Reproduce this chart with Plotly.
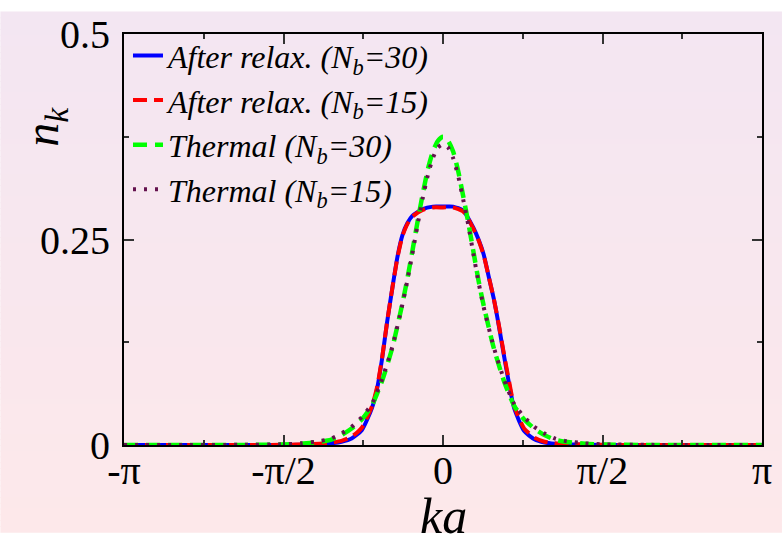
import numpy as np
import plotly.graph_objects as go

# ---------------- data ----------------
k_relax = [-3.1416, -2.5, -2.0, -1.6, -1.3, -1.1, -1.0, -0.9, -0.8, -0.7, -0.65, -0.6, -0.55, -0.5, -0.45, -0.4,
           -0.35, -0.3, -0.2, -0.1, 0.0, 0.1, 0.2, 0.3, 0.35, 0.4, 0.45, 0.5, 0.55, 0.6, 0.65, 0.7, 0.8, 0.9, 1.0,
           1.1, 1.3, 1.6, 2.0, 2.5, 3.1416]
n_relax30 = [0.0, 0.0, 0.0, 0.0001, 0.0005, 0.002, 0.004, 0.008, 0.018, 0.045, 0.068, 0.105, 0.15, 0.19, 0.228, 0.255,
             0.27, 0.279, 0.287, 0.290, 0.290, 0.290, 0.285, 0.264, 0.25, 0.232, 0.205, 0.178, 0.145, 0.109, 0.075,
             0.045, 0.017, 0.007, 0.003, 0.0015, 0.0005, 0.0001, 0.0, 0.0, 0.0]
n_relax15 = [0.0, 0.0, 0.0, 0.0002, 0.001, 0.003, 0.005, 0.010, 0.021, 0.047, 0.07, 0.106, 0.15, 0.19, 0.227, 0.254,
             0.269, 0.278, 0.286, 0.289, 0.289, 0.289, 0.284, 0.263, 0.249, 0.231, 0.205, 0.178, 0.146, 0.111, 0.078,
             0.048, 0.020, 0.009, 0.004, 0.002, 0.0008, 0.0002, 0.0, 0.0, 0.0]

k_therm = [-3.1416, -2.5, -2.0, -1.6, -1.4, -1.2, -1.1, -1.0, -0.9, -0.8, -0.7, -0.6, -0.5, -0.4, -0.35, -0.3, -0.25,
           -0.2, -0.15, -0.1, -0.05, 0.0, 0.05, 0.1, 0.15, 0.2, 0.25, 0.3, 0.35, 0.4, 0.5, 0.6, 0.7, 0.8, 0.9, 1.0,
           1.1, 1.2, 1.4, 1.6, 2.0, 2.5, 3.1416]
n_therm30 = [0.0, 0.0, 0.0001, 0.0005, 0.0015, 0.004, 0.0065, 0.012, 0.020, 0.031, 0.048, 0.078, 0.118, 0.172, 0.203,
             0.237, 0.272, 0.305, 0.335, 0.357, 0.370, 0.375, 0.370, 0.357, 0.333, 0.302, 0.27, 0.235, 0.2, 0.17,
             0.118, 0.078, 0.048, 0.031, 0.020, 0.012, 0.0065, 0.004, 0.0015, 0.0005, 0.0001, 0.0, 0.0]
n_therm15 = [0.0, 0.0, 0.0002, 0.0008, 0.002, 0.005, 0.008, 0.014, 0.022, 0.034, 0.050, 0.080, 0.119, 0.171, 0.201,
             0.234, 0.268, 0.300, 0.328, 0.349, 0.362, 0.366, 0.362, 0.349, 0.327, 0.298, 0.267, 0.232, 0.198, 0.168,
             0.119, 0.080, 0.050, 0.034, 0.022, 0.014, 0.008, 0.005, 0.002, 0.0008, 0.0002, 0.0, 0.0]

x_tickvals = [-np.pi, -np.pi / 2, 0, np.pi / 2, np.pi]
x_ticktext = ["-π", "-π/2", "0", "π/2", "π"]
y_tickvals = [0, 0.25, 0.5]
y_ticktext = ["0", "0.25", "0.5"]

names = ["<i>After relax. (N<sub>b</sub>=30)</i>", "<i>After relax. (N<sub>b</sub>=15)</i>",
         "<i>Thermal (N<sub>b</sub>=30)</i>", "<i>Thermal (N<sub>b</sub>=15)</i>"]

# ---------------- figure ----------------
W, H = 784, 534
ML, MR, MT, MB = 124, 20, 23, 89
SERIF = "Liberation Serif"

fig = go.Figure()
series = [
    (k_relax, n_relax30, "#0000ff", "solid", 4),
    (k_relax, n_relax15, "#ff0000", "14px,7px", 4),
    (k_therm, n_therm30, "#00ff00", "14px,8px", 4.5),
    (k_therm, n_therm15, "#64124e", "3px,8px", 4),
]
for i, (xs, ys, col, dash, w) in enumerate(series):
    fig.add_trace(go.Scatter(x=xs, y=ys, mode="lines", name=names[i], legendgroup=str(i),
                             line=dict(color=col, dash=dash, width=w, shape="spline", smoothing=0.6)))

# background gradient (lavender top -> pink bottom)
top = np.array([0xf3, 0xe6, 0xf2])
bot = np.array([0xfd, 0xe8, 0xea])
nb = 90
pw, ph = W - ML - MR, H - MT - MB
for j in range(nb):
    t = (j + 0.5) / nb
    c = top + (bot - top) * t
    y0px = j * H / nb
    y1px = (j + 1) * H / nb + 1
    fig.add_shape(type="rect", xref="paper", yref="paper", layer="below", line_width=0,
                  fillcolor="rgb(%d,%d,%d)" % tuple(c.round().astype(int)),
                  x0=-ML / pw, x1=1 + MR / pw,
                  y0=1 + MT / ph - y1px / ph, y1=1 + MT / ph - y0px / ph)

axis_common = dict(showgrid=False, zeroline=False, showline=True, linecolor="black", linewidth=2,
                   mirror="allticks", ticks="inside", ticklen=10, tickwidth=1.5, tickcolor="#333",
                   tickfont=dict(family=SERIF, size=40, color="black"))

fig.update_xaxes(range=[-np.pi, np.pi], tickvals=x_tickvals, ticktext=x_ticktext, ticklabelstandoff=-11,
                 minor=dict(ticks="inside", ticklen=5, tickwidth=1.5, tickcolor="#333",
                            tickvals=[-3 * np.pi / 4, -np.pi / 4, np.pi / 4, 3 * np.pi / 4]),
                 **axis_common)
fig.update_yaxes(range=[0, 0.5], tickvals=y_tickvals, ticktext=y_ticktext, ticklabelstandoff=4,
                 minor=dict(ticks="inside", ticklen=5, tickwidth=1.5, tickcolor="#333",
                            tickvals=[0.125, 0.375]),
                 **axis_common)

fig.add_annotation(text="<i>ka</i>", xref="paper", yref="paper", x=0.5, y=1 - (518 - MT) / ph,
                   showarrow=False, font=dict(family=SERIF, size=50, color="black"), yanchor="middle")
fig.add_annotation(text="<i>n<sub>k</sub></i>", xref="paper", yref="paper", x=-(ML - 44) / pw,
                   y=1 - (118 - MT) / ph, textangle=-90, showarrow=False,
                   font=dict(family=SERIF, size=48, color="black"), xanchor="center", yanchor="middle")

fig.update_layout(
    width=W, height=H, margin=dict(l=ML, r=MR, t=MT, b=MB),
    paper_bgcolor="rgba(0,0,0,0)", plot_bgcolor="rgba(0,0,0,0)",
    showlegend=True,
    legend=dict(x=4 / pw, y=1 + 6 / ph, xanchor="left", yanchor="top", bgcolor="rgba(0,0,0,0)",
                font=dict(family=SERIF, size=32, color="black"), traceorder="grouped",
                tracegroupgap=0, itemwidth=30),
)

fig.write_html("out.html")
